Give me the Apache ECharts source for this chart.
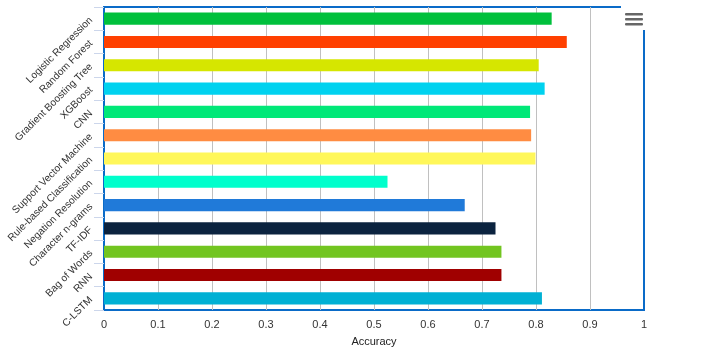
<!DOCTYPE html>
<html>
<head>
<meta charset="utf-8">
<script src="https://cdn.jsdelivr.net/npm/echarts@6/dist/echarts.min.js"></script>
<style>html,body{margin:0;padding:0;background:#fff}#c{width:727px;height:358px}</style>
</head>
<body>
<div id="c"></div>
<script>
const categories = ['Logistic Regression','Random Forest','Gradient Boosting Tree','XGBoost','CNN','Support Vector Machine','Rule-based Classification','Negation Resolution','Character n-grams','TF-IDF','Bag of Words','RNN','C-LSTM'];
const accuracy = [0.829, 0.857, 0.805, 0.816, 0.789, 0.791, 0.799, 0.525, 0.668, 0.725, 0.736, 0.736, 0.811];
const xTicks = [0, 0.1, 0.2, 0.3, 0.4, 0.5, 0.6, 0.7, 0.8, 0.9, 1];
const barColors = ['#00c03c','#ff4000','#d6e600','#00d2ef','#00e878','#ff8c42','#fff75a','#00ffcc','#207ad9','#0b233f','#72c520','#a00000','#00b0d4'];

const chart = echarts.init(document.getElementById('c'), null, {renderer:'canvas'});
chart.setOption({
  animation: false,
  color: barColors,
  textStyle: {fontFamily: '"Liberation Sans", Arial, sans-serif'},
  grid: {left: 104, right: 83, top: 7, bottom: 48, show: true, borderColor: '#0a6bc8', borderWidth: 2, backgroundColor: 'transparent', outerBoundsMode: 'none', containLabel: false},
  xAxis: {
    type: 'value', min: xTicks[0], max: xTicks[xTicks.length-1], interval: 0.1,
    name: 'Accuracy', nameLocation: 'middle', nameGap: 26,
    nameTextStyle: {color: '#222', fontSize: 11},
    axisLine: {show: false}, axisTick: {show: false},
    axisLabel: {color: '#333', fontSize: 11, margin: 9},
    splitLine: {show: true, showMinLine: false, showMaxLine: false, lineStyle: {color: '#c0c0c0', width: 1}}
  },
  yAxis: {
    type: 'category', data: categories, inverse: true,
    axisLine: {show: false},
    axisTick: {show: true, length: 10, lineStyle: {color: '#ccd6eb'}},
    axisLabel: {rotate: 45, color: '#333', fontSize: 10.2, margin: 13, interval: 0},
    splitLine: {show: false}
  },
  series: [{
    type: 'bar', data: accuracy, colorBy: 'data',
    barCategoryGap: '48%'
  }],
  graphic: [
    {type: 'rect', shape: {x: 621, y: 3, width: 28, height: 27, r: 2}, style: {fill: '#fff'}, z: 100},
    {type: 'rect', shape: {x: 625, y: 13, width: 18, height: 2.6, r: 1}, style: {fill: '#666'}, z: 101},
    {type: 'rect', shape: {x: 625, y: 18, width: 18, height: 2.6, r: 1}, style: {fill: '#666'}, z: 101},
    {type: 'rect', shape: {x: 625, y: 23, width: 18, height: 2.6, r: 1}, style: {fill: '#666'}, z: 101}
  ]
});
</script>
</body>
</html>
